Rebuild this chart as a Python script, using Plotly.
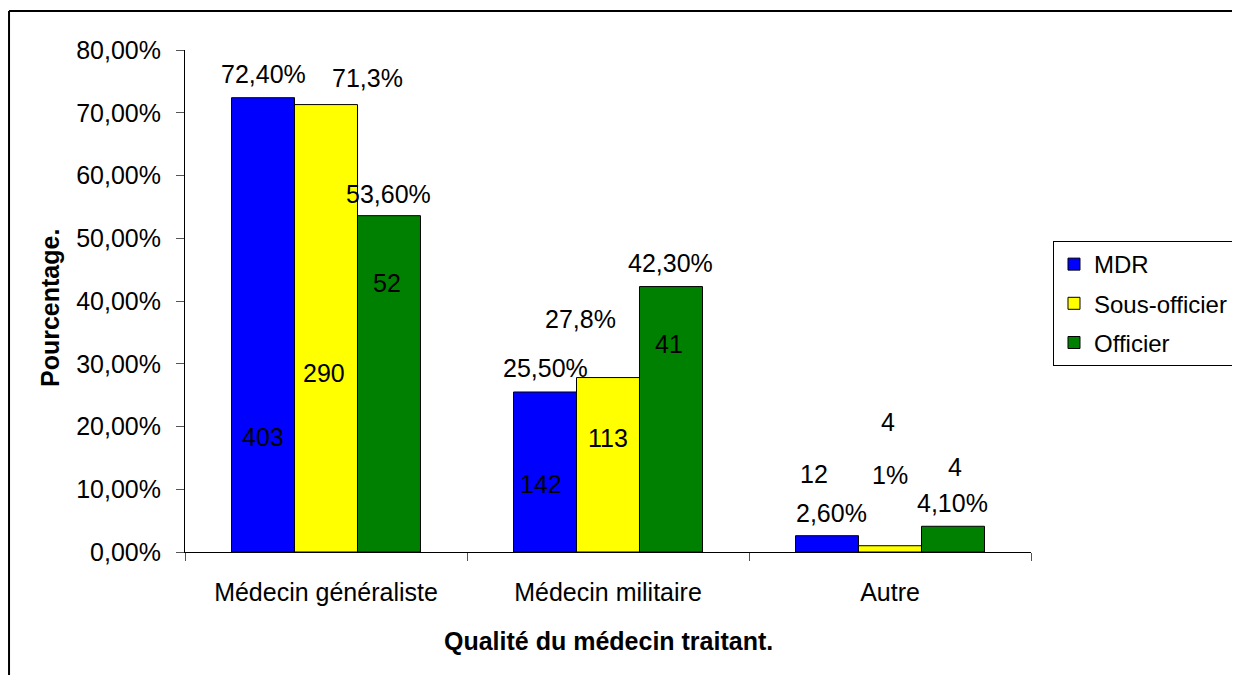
import plotly.graph_objects as go

# data
categories = ["Médecin généraliste", "Médecin militaire", "Autre"]
series = ["MDR", "Sous-officier", "Officier"]
pct_mdr = [0.724, 0.255, 0.026]
pct_sous_officier = [0.713, 0.278, 0.010]
pct_officier = [0.536, 0.423, 0.041]
lbl_mdr = ["72,40%", "25,50%", "2,60%"]
lbl_sous_officier = ["71,3%", "27,8%", "1%"]
lbl_officier = ["53,60%", "42,30%", "4,10%"]
n_mdr = [403, 142, 12]
n_sous_officier = [290, 113, 4]
n_officier = [52, 41, 4]
y_ticks = [0, 0.1, 0.2, 0.3, 0.4, 0.5, 0.6, 0.7, 0.8]

pcts = [pct_mdr, pct_sous_officier, pct_officier]
lbls = [lbl_mdr, lbl_sous_officier, lbl_officier]
counts = [n_mdr, n_sous_officier, n_officier]
colors = ["#0000FF", "#FFFF00", "#008000"]

# label placement (pixel shifts / data-unit heights), as in the original sheet
pct_xshift = [[0, 0, 4], [41, -28, 0], [0, 0, 0]]
pct_yshift = [[24, 24, 23], [27, 59, 71], [22, 24, 23]]
cnt_xshift = [[0, -4, -13], [-2, 0, -2], [-2, -2, 2]]
cnt_y = [[0.1826, 0.108, 0.124], [0.286, 0.181, 0.207], [0.428, 0.332, 0.136]]

FONT = "Liberation Sans, Arial, sans-serif"
BARGAP = 0.33
bw = (1 - BARGAP) / 3

fig = go.Figure()
for j, name in enumerate(series):
    fig.add_trace(go.Bar(
        x=categories, y=pcts[j], name=name, legendgroup=name,
        marker=dict(color=colors[j], line=dict(color="black", width=1)),
        hoverinfo="skip",
    ))

ann = []
for j in range(3):
    for i in range(3):
        xpos = i + (j - 1) * bw
        ann.append(dict(x=xpos, y=pcts[j][i], xref="x", yref="y", text=lbls[j][i],
                        showarrow=False, xanchor="center", yanchor="middle",
                        xshift=pct_xshift[j][i], yshift=pct_yshift[j][i],
                        font=dict(family=FONT, size=25, color="black")))
        ann.append(dict(x=xpos, y=cnt_y[j][i], xref="x", yref="y", text=str(counts[j][i]),
                        showarrow=False, xanchor="center", yanchor="middle",
                        xshift=cnt_xshift[j][i],
                        font=dict(family=FONT, size=25, color="black")))

# axis titles
ann.append(dict(x=0.5, y=-0.177, xref="paper", yref="paper", text="<b>Qualité du médecin traitant.</b>",
                showarrow=False, xanchor="center", yanchor="middle",
                font=dict(family=FONT, size=25, color="black")))
ann.append(dict(x=-0.1596, y=0.486, xref="paper", yref="paper", text="<b>Pourcentage.</b>",
                showarrow=False, xanchor="center", yanchor="middle", textangle=-90,
                font=dict(family=FONT, size=25, color="black")))

# outer chart frame (only top and left edges fall inside the picture)
frame = dict(type="line", xref="paper", yref="paper", line=dict(color="black", width=2))
shapes = [
    dict(frame, x0=-0.208, x1=1.6, y0=1.0777, y1=1.0777),
    dict(frame, x0=-0.208, x1=-0.208, y0=-0.3, y1=1.0777),
]

# page body adds 8px on the left/top, so the figure is 8px smaller than the window
fig.update_layout(
    width=1232, height=667,
    margin=dict(l=177, r=209, t=42, b=123, autoexpand=False),
    paper_bgcolor="white", plot_bgcolor="white",
    barmode="group", bargap=BARGAP, bargroupgap=0,
    separators=", ",
    font=dict(family=FONT, size=25, color="black"),
    annotations=ann,
    showlegend=True,
    legend=dict(x=1.026, y=0.6195, xanchor="left", yanchor="top",
                bgcolor="white", bordercolor="black", borderwidth=1,
                font=dict(family=FONT, size=24, color="black"),
                traceorder="grouped", tracegroupgap=5),
    shapes=shapes,
)
fig.update_xaxes(
    showline=True, linecolor="black", linewidth=1,
    ticks="outside", tickson="boundaries", ticklen=8, tickcolor="#555555",
    ticklabelstandoff=18,
    showgrid=False, zeroline=False,
    tickfont=dict(family=FONT, size=25, color="black"),
)
fig.update_yaxes(
    range=[0, 0.8], tickvals=y_ticks, tickformat=".2%",
    showline=True, linecolor="black", linewidth=1,
    ticks="outside", ticklen=8, tickcolor="#555555", ticklabelstandoff=10,
    showgrid=False, zeroline=False,
    tickfont=dict(family=FONT, size=25, color="black"),
)

fig.write_html("out.html")
